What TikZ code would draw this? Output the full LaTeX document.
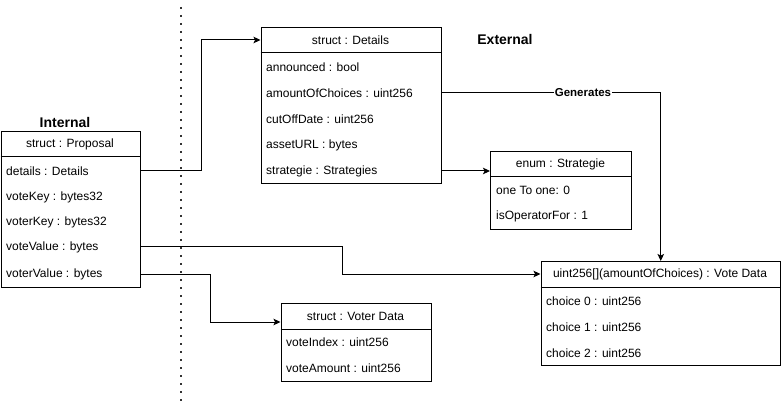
\documentclass[tikz,border=0pt]{standalone}
\usepackage{fontspec}
\setmainfont{Liberation Sans}
\usetikzlibrary{arrows.meta}
\begin{document}
\begin{tikzpicture}[x=1pt,y=-1pt,
  box/.style={draw=black, line width=1pt, rectangle, inner sep=0pt, anchor=north west},
  hdr/.style={font=\fontsize{12}{14}\selectfont, inner sep=0pt, anchor=center},
  row/.style={font=\fontsize{12}{14}\selectfont, inner sep=0pt, anchor=west},
  sep/.style={draw=black, line width=1pt},
  conn/.style={draw=black, line width=1pt},
  arr/.style={conn, -{Stealth[length=7pt,width=6.5pt,inset=1.5pt]}},
  title/.style={font=\fontsize{14}{16}\selectfont\bfseries, inner sep=0pt},
  elabel/.style={font=\fontsize{11.5}{13}\selectfont\bfseries, fill=white, inner sep=1pt}
]
\useasboundingbox (0,0) rectangle (781,403);

% dotted divider
\coordinate (dtop) at (180.5,7);
\coordinate (dbot) at (180.5,403);
\draw[line width=2pt, dash pattern=on 2pt off 6pt, black!80] (dtop) -- (dbot);

% titles
\node[title] (internal) at (65,122) {Internal};
\node[title] (external) at (505,39) {External};

% Proposal
\node[box, minimum width=139.5pt, minimum height=156pt] (prop) at (0.5,131) {};
\draw[sep] (0.5,157) -- (140,157);
\node[hdr] (prophdr) at (70,144) {struct : Proposal};
\node[row] (pdetails) at (6,171) {details : Details};
\node[row] (pvotekey) at (6,197) {voteKey : bytes32};
\node[row] (pvoterkey) at (6,222) {voterKey : bytes32};
\node[row] (pvoteval) at (6,247) {voteValue : bytes};
\node[row] (pvoterval) at (6,274) {voterValue : bytes};

% Details
\node[box, minimum width=180pt, minimum height=156pt] (det) at (260.5,27) {};
\draw[sep] (260.5,53) -- (440.5,53);
\node[hdr] (dethdr) at (350.5,40) {struct : Details};
\node[row] (dann) at (266,67) {announced : bool};
\node[row] (damount) at (266,93) {amountOfChoices : uint256};
\node[row] (dcut) at (266,119) {cutOffDate : uint256};
\node[row] (dasset) at (266,145) {assetURL : bytes};
\node[row] (dstrat) at (266,171) {strategie : Strategies};

% Strategie enum
\node[box, minimum width=141pt, minimum height=78pt] (enum) at (490,151) {};
\draw[sep] (490,177) -- (631,177);
\node[hdr] (enumhdr) at (560.5,164) {enum : Strategie};
\node[row] (eone) at (496,190) {one To one: 0};
\node[row] (eop) at (496,216) {isOperatorFor : 1};

% Vote Data
\node[box, minimum width=239.5pt, minimum height=104pt] (vote) at (540.5,261) {};
\draw[sep] (540.5,287) -- (780,287);
\node[hdr] (votehdr) at (660,274) {uint256[](amountOfChoices) : Vote Data};
\node[row] (vc0) at (546,301) {choice 0 : uint256};
\node[row] (vc1) at (546,327) {choice 1 : uint256};
\node[row] (vc2) at (546,353) {choice 2 : uint256};

% Voter Data
\node[box, minimum width=150pt, minimum height=78pt] (voter) at (280.5,303) {};
\draw[sep] (280.5,329) -- (430.5,329);
\node[hdr] (voterhdr) at (355.5,316) {struct : Voter Data};
\node[row] (vidx) at (286,342) {voteIndex : uint256};
\node[row] (vamt) at (286,368) {voteAmount : uint256};

% connectors
\coordinate (c1) at (201,0);
\draw[arr] (prop.east |- pdetails) -| (c1 |- dethdr) -- (det.west |- dethdr);
\draw[arr] (det.east |- dstrat) -- (enum.west |- dstrat);
\draw[arr] (det.east |- damount) -| (vote.north);
\node[elabel] (gen) at (583,93) {Generates};
\coordinate (c4) at (342,0);
\draw[arr] (prop.east |- pvoteval) -| (c4 |- votehdr) -- (vote.west |- votehdr);
\coordinate (c5) at (210.5,0);
\coordinate (c5y) at (0,322);
\draw[arr] (prop.east |- pvoterval) -| (c5 |- c5y) -- (voter.west |- c5y);
\end{tikzpicture}
\end{document}
